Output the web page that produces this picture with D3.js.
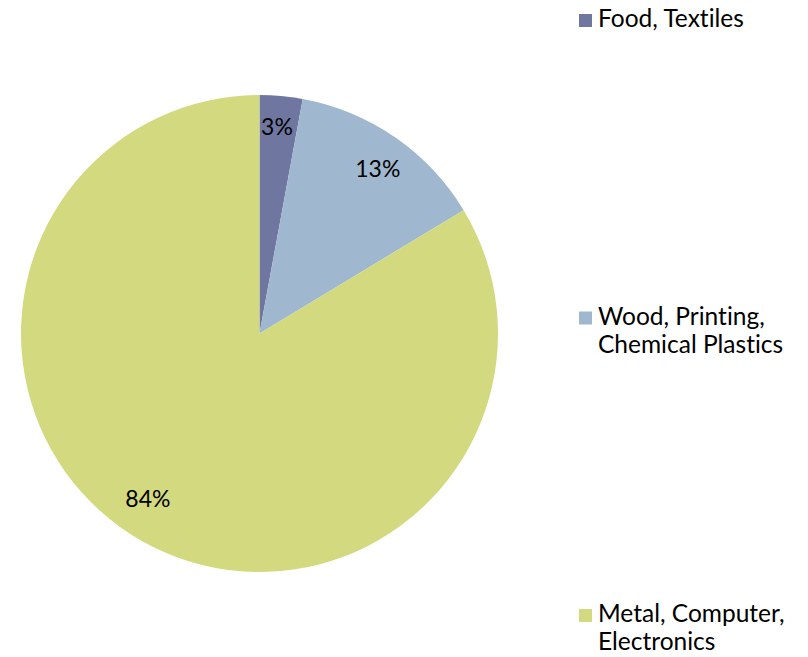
<!DOCTYPE html>
<html><head><meta charset="utf-8">
<script src="https://cdn.jsdelivr.net/npm/d3@7"></script>
<style>body{margin:0;background:#fff}svg{display:block}text{font-variant-ligatures:none;font-feature-settings:"liga" 0}</style>
</head><body>
<svg id="c" width="808" height="657"></svg>
<script>
const categories = ["Food, Textiles", "Wood, Printing, Chemical Plastics", "Metal, Computer, Electronics"];
const legendLines = [["Food, Textiles"], ["Wood, Printing,", "Chemical Plastics"], ["Metal, Computer,", "Electronics"]];
const values = [2.9, 13.45, 83.65];
const labels = ["3%", "13%", "84%"];
const colors = ["#6F77A0", "#A0B8CF", "#D3D97E"];

const svg = d3.select("#c");
const font = "'Lato', 'Open Sans', sans-serif";
const cx = 259.5, cy = 333.5, r = 238.5;
const pie = d3.pie().sort(null)(values);
const arc = d3.arc().innerRadius(0).outerRadius(r);
const labelArc = d3.arc().innerRadius(r * 0.85).outerRadius(r * 0.85);
// small label nudges (best-fit placement as in the original)
const nudge = [[-1, -6], [3, 1], [-12, -12]];
const g = svg.append("g").attr("transform", `translate(${cx},${cy})`);
g.selectAll("path").data(pie).join("path").attr("d", arc).attr("fill", (d, i) => colors[i]);
g.selectAll("text").data(pie).join("text")
  .attr("transform", (d, i) => { const c = labelArc.centroid(d); return `translate(${c[0] + nudge[i][0]},${c[1] + nudge[i][1]})`; })
  .attr("text-anchor", "middle").attr("dominant-baseline", "central")
  .style("font-family", font).style("font-size", "23px").attr("fill", "#000")
  .text((d, i) => labels[i]);

const ly = d3.scalePoint().domain(categories).range([27, 622]);
const lg = svg.append("g");
categories.forEach((c, i) => {
  const y = ly(c);
  lg.append("rect").attr("x", 579).attr("y", y - 13).attr("width", 13).attr("height", 13).attr("fill", colors[i]);
  const t = lg.append("text").attr("x", 598).attr("y", y)
    .style("font-family", font).style("font-size", "24.5px").attr("fill", "#000");
  legendLines[i].forEach((ln, j) => t.append("tspan").attr("x", 598).attr("dy", j === 0 ? 0 : 28).text(ln));
});
</script>
</body></html>
